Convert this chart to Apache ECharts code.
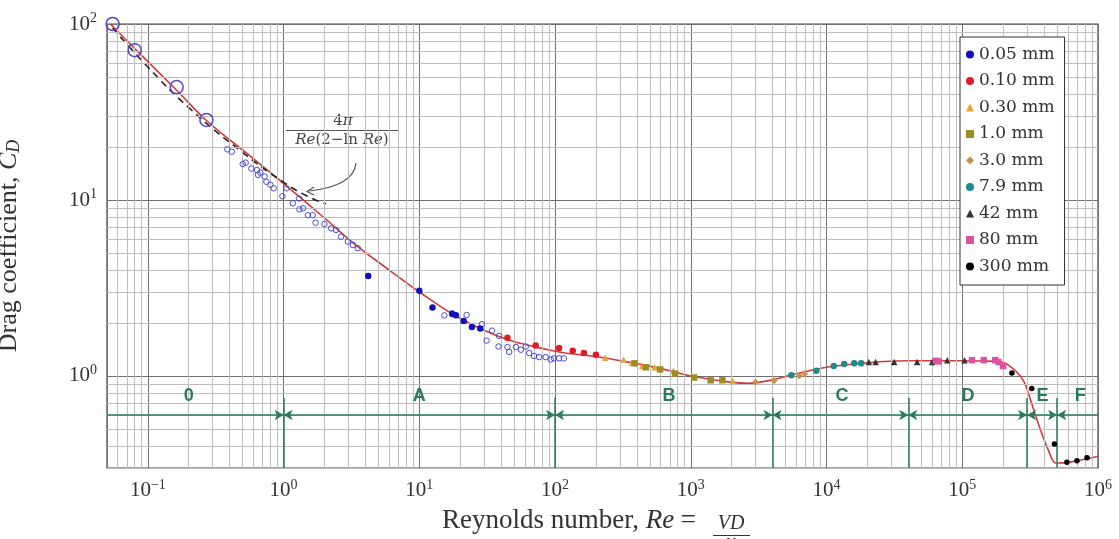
<!DOCTYPE html>
<html><head><meta charset="utf-8">
<script src="https://cdn.jsdelivr.net/npm/echarts@6/dist/echarts.min.js"></script>
<style>html,body{margin:0;padding:0;background:#fff}#c{width:1119px;height:539px}</style>
</head><body><div id="c"></div>
<script>
const SERIF = "'Liberation Serif','DejaVu Serif',serif";
const WSERIF = "'DejaVu Serif','Liberation Serif',serif";
const SANS = "'Liberation Sans','DejaVu Sans',sans-serif";

// ---- tick labels (decade exponents) ----
const xTickExps = [-1, 0, 1, 2, 3, 4, 5, 6];
const yTickExps = [0, 1, 2];

// ---- fitted curve (red) [Re, CD] ----
const fitCurve = [
  [0.053, 100], [0.08, 72.5], [0.163, 42], [0.27, 28.3], [0.56, 17.9], [1, 12.4],
  [2, 7.9], [3.5, 5.45], [6, 4.0], [10, 3.0], [20, 2.12],
  [44.6, 1.61], [107, 1.37], [200, 1.29], [320, 1.21], [440, 1.16],
  [740, 1.06], [1000, 1.0], [2000, 0.92], [2700, 0.91], [4000, 0.95], [5400, 1.01],
  [10000, 1.12], [20000, 1.19], [40000, 1.22], [100000, 1.22], [180000, 1.21],
  [220000, 1.15], [280000, 0.95], [330000, 0.67], [370000, 0.515], [430000, 0.38],
  [490000, 0.32], [630000, 0.325], [1000000, 0.35]
];
// ---- low-Re asymptote (dashed) ----
const lambCurve = [[0.055, 95], [0.1, 57], [0.2, 33.5], [0.5, 18.6], [1, 12.6], [1.5, 10.5], [2.05, 9.5]];

// ---- measured data ----
const bigOpen = [[0.055, 100], [0.08, 71], [0.163, 43.8], [0.27, 28.5]];
const smallOpen = [
  [0.385, 19.4], [0.415, 18.8], [0.5, 16.0], [0.525, 16.3], [0.578, 15.1], [0.636, 14.8],
  [0.647, 13.9], [0.674, 14.3], [0.725, 13.6], [0.746, 12.7], [0.8, 12.2], [0.845, 11.65],
  [0.98, 10.5], [1.05, 11.65], [1.17, 9.58], [1.3, 10.2], [1.31, 8.85], [1.39, 8.97],
  [1.51, 8.2], [1.64, 8.2], [1.72, 7.43], [2.0, 7.3], [2.24, 6.9], [2.43, 6.76],
  [2.65, 6.19], [2.97, 5.8], [3.24, 5.55], [3.52, 5.32],
  [15.3, 2.21], [17.4, 2.27], [22.3, 2.22], [28.9, 1.97], [31.3, 1.59], [34.3, 1.81],
  [38.3, 1.47], [38.7, 1.69], [44.6, 1.46], [45.9, 1.37], [51.4, 1.46], [56, 1.41],
  [60.9, 1.47], [64.5, 1.35], [70.1, 1.3], [76.3, 1.28], [85.3, 1.28], [92.9, 1.24],
  [98.3, 1.26], [107, 1.26], [116, 1.26]
];
const d005 = [[4.2, 3.7], [10, 3.05], [12.5, 2.45], [17.5, 2.25], [18.6, 2.21], [21.2, 2.05], [24.4, 1.9], [28.1, 1.86]];
const d010 = [[44.6, 1.65], [72, 1.49], [107, 1.44], [135, 1.39], [163, 1.35], [200, 1.32]];
const d030 = [[234, 1.27], [320, 1.24], [370, 1.19], [437, 1.14], [541, 1.12], [746, 1.07], [2030, 0.94]];
const d10 = [[385, 1.18], [467, 1.12], [594, 1.09], [767, 1.03], [1057, 0.98], [1400, 0.945], [1710, 0.945]];
const d30 = [[3000, 0.92], [4100, 0.94], [6300, 1.0], [6900, 1.03]];
const d79 = [[5500, 1.01], [8400, 1.07], [11300, 1.14], [13500, 1.17], [16000, 1.18], [18000, 1.18]];
const d42 = [[20500, 1.2], [23000, 1.2], [31500, 1.2], [46500, 1.2], [60000, 1.2], [77500, 1.23], [104000, 1.23]];
const d80 = [[64000, 1.22], [67000, 1.21], [118000, 1.23], [144000, 1.23], [175000, 1.23], [185000, 1.2], [200000, 1.14]];
const d300 = [[232000, 1.04], [325000, 0.85], [477000, 0.41], [590000, 0.323], [700000, 0.33], [830000, 0.343]];

// ---- flow regimes ----
const regionBounds = [1, 100, 4000, 40000, 300000, 500000];
const regionNames = ['0', 'A', 'B', 'C', 'D', 'E', 'F'];
const regionLabelRe = [0.2, 10, 690, 13000, 110000, 390000, 740000];
const regionLabelCd = 0.77;
const regionLineCd = 0.6;
const regionTickTop = 0.75;

const X_MIN = 0.05, X_MAX = 1e6, Y_MIN = 0.3, Y_MAX = 100;

// minor grid lines
const minorX = [], minorY = [];
for (let e = -2; e <= 5; e++) for (let k = 2; k <= 9; k++) {
  const v = k * Math.pow(10, e);
  if (v > X_MIN && v < X_MAX) minorX.push({ xAxis: v });
}
for (let e = -1; e <= 1; e++) for (let k = 2; k <= 9; k++) {
  const v = k * Math.pow(10, e);
  if (v > Y_MIN && v < Y_MAX) minorY.push({ yAxis: v });
}

const GREEN = '#2b7a5c';
const regionSegments = [];
const edges = [X_MIN].concat(regionBounds, [X_MAX]);
for (let i = 0; i < edges.length - 1; i++) {
  regionSegments.push([
    { coord: [edges[i], regionLineCd], symbol: i === 0 ? 'none' : 'arrow' },
    { coord: [edges[i + 1], regionLineCd], symbol: i === edges.length - 2 ? 'none' : 'arrow' }
  ]);
}
const regionTicks = regionBounds.map(b => [
  { coord: [b, Y_MIN], symbol: 'none' }, { coord: [b, regionTickTop], symbol: 'none' }
]);

function expLabel(v, list) {
  const l = Math.log10(v), e = Math.round(l);
  if (Math.abs(l - e) > 1e-6 || list.indexOf(e) < 0) return '';
  return '{b|10}{sup|' + (e < 0 ? '\u2212' + (-e) : e) + '}';
}
const tickRich = {
  b: { fontFamily: SERIF, fontSize: 21, color: '#333' },
  sup: { fontFamily: SERIF, fontSize: 14, color: '#333', padding: [0, 0, 11, 0] }
};

const sc = (name, data, symbol, color, size) => ({
  name, type: 'scatter', data, symbol, symbolSize: size || 6.5, z: 5,
  itemStyle: { color, opacity: 1 }
});

const chart = echarts.init(document.getElementById('c'), null, { renderer: 'canvas' });
chart.setOption({
  animation: false,
  backgroundColor: '#fff',
  grid: { left: 107, right: 21, top: 24, bottom: 71, show: true, borderColor: '#444', borderWidth: 1.2, containLabel: false, outerBoundsMode: 'none' },
  xAxis: {
    type: 'log', logBase: 10, min: X_MIN, max: X_MAX,
    axisLine: { show: false }, axisTick: { show: false },
    splitLine: { show: true, lineStyle: { color: '#707070', width: 1 } },
    axisLabel: { margin: 10, formatter: v => expLabel(v, xTickExps), rich: tickRich, showMinLabel: true, showMaxLabel: true }
  },
  yAxis: {
    type: 'log', logBase: 10, min: Y_MIN, max: Y_MAX,
    axisLine: { show: false }, axisTick: { show: false },
    splitLine: { show: true, lineStyle: { color: '#707070', width: 1 } },
    axisLabel: { margin: 10, formatter: v => expLabel(v, yTickExps), rich: tickRich },
    name: '{t|Drag coefficient, }{i|C}{s|D}', nameLocation: 'middle', nameRotate: 90, nameGap: 84,
    nameTextStyle: {
      rich: {
        t: { fontFamily: SERIF, fontSize: 26, color: '#333' },
        i: { fontFamily: SERIF, fontStyle: 'italic', fontSize: 26, color: '#333' },
        s: { fontFamily: SERIF, fontStyle: 'italic', fontSize: 18, color: '#333', padding: [10, 0, 0, 0] }
      }
    }
  },
  legend: {
    data: ['0.05 mm', '0.10 mm', '0.30 mm', '1.0 mm', '3.0 mm', '7.9 mm', '42 mm', '80 mm', '300 mm'],
    orient: 'vertical', left: 960, top: 37, z: 50, selectedMode: false,
    backgroundColor: '#fff', borderColor: '#333', borderWidth: 1,
    padding: [9, 10, 10, 6], itemGap: 9.5, itemWidth: 8, itemHeight: 8,
    textStyle: { fontFamily: WSERIF, fontSize: 17, color: '#333' }
  },
  series: [
    {
      type: 'line', data: [], silent: true, z: 1,
      markLine: {
        silent: true, symbol: 'none', animation: false, label: { show: false },
        lineStyle: { color: '#bdbdbd', width: 1, type: 'solid' },
        data: minorX.concat(minorY)
      }
    },
    {
      type: 'line', data: [], silent: true, z: 3,
      markLine: {
        silent: true, animation: false, label: { show: false }, symbolSize: [8, 9],
        lineStyle: { color: GREEN, width: 1.5, type: 'solid' },
        data: regionSegments.concat(regionTicks)
      },
      markPoint: {
        silent: true, animation: false, symbol: 'circle', symbolSize: 0,
        itemStyle: { color: GREEN, opacity: 1 },
        label: { show: true, position: 'inside', formatter: p => p.name, fontFamily: SANS, fontWeight: 'bold', fontSize: 18, color: GREEN, opacity: 1, textBorderWidth: 0 },
        data: regionNames.map((n, i) => ({ name: n, coord: [regionLabelRe[i], regionLabelCd] }))
      }
    },
    {
      name: 'fit', type: 'line', data: fitCurve, symbol: 'none', smooth: 0.35, z: 4,
      lineStyle: { color: '#d23a3a', width: 1.6 }
    },
    {
      name: 'lamb', type: 'line', data: lambCurve, symbol: 'none', smooth: true, z: 4,
      lineStyle: { color: '#222', width: 1.6, type: [7, 5] }
    },
    {
      name: 'openBig', type: 'scatter', data: bigOpen, symbol: 'circle', symbolSize: 13, z: 5,
      itemStyle: { color: 'rgba(0,0,0,0)', borderColor: '#5b45c8', borderWidth: 1.5, opacity: 1 }
    },
    {
      name: 'openSmall', type: 'scatter', data: smallOpen, symbol: 'circle', symbolSize: 5.5, z: 5,
      itemStyle: { color: 'rgba(0,0,0,0)', borderColor: '#4a4ad6', borderWidth: 1, opacity: 1 }
    },
    sc('0.05 mm', d005, 'circle', '#1212b8'),
    sc('0.10 mm', d010, 'circle', '#e01b24'),
    sc('0.30 mm', d030, 'triangle', '#e8a23a'),
    sc('1.0 mm', d10, 'rect', '#a08c22'),
    sc('3.0 mm', d30, 'diamond', '#cc8e50', 7),
    sc('7.9 mm', d79, 'circle', '#1e8a8a'),
    sc('42 mm', d42, 'triangle', '#333333'),
    sc('80 mm', d80, 'rect', '#e04fa6'),
    sc('300 mm', d300, 'circle', '#000000', 5.5)
  ],
  graphic: [
    { type: 'text', x: 343, y: 121, style: { text: '4{i|\u03c0}', rich: { i: { fontStyle: 'italic', fontFamily: WSERIF, fontSize: 15, fill: '#444' } }, fontFamily: WSERIF, fontSize: 15, fill: '#444', align: 'center', verticalAlign: 'middle' } },
    { type: 'line', shape: { x1: 286, y1: 130.5, x2: 398, y2: 130.5 }, style: { stroke: '#555', lineWidth: 1 } },
    { type: 'text', x: 342, y: 140, style: { text: '{i|Re}(2\u2212ln {i|Re})', rich: { i: { fontStyle: 'italic', fontFamily: WSERIF, fontSize: 15, fill: '#444' } }, fontFamily: WSERIF, fontSize: 15, fill: '#444', align: 'center', verticalAlign: 'middle' } },
    { type: 'bezierCurve', shape: { x1: 356, y1: 163, cpx1: 354, cpy1: 186, x2: 309, y2: 191 }, style: { stroke: '#555', lineWidth: 1.2, fill: null } },
    { type: 'polyline', shape: { points: [[314, 187], [307, 191.5], [314, 195]] }, style: { stroke: '#555', lineWidth: 1.2, fill: null } },
    { type: 'text', x: 442, y: 521, style: { text: 'Reynolds number, {i|Re} = ', rich: { i: { fontStyle: 'italic', fontFamily: SERIF, fontSize: 27, fill: '#333' } }, fontFamily: SERIF, fontSize: 27, fill: '#333', verticalAlign: 'middle' } },
    { type: 'text', x: 731, y: 524, style: { text: 'VD', fontFamily: SERIF, fontStyle: 'italic', fontSize: 20, fill: '#333', align: 'center', verticalAlign: 'middle' } },
    { type: 'line', shape: { x1: 713, y1: 535.5, x2: 750, y2: 535.5 }, style: { stroke: '#333', lineWidth: 1 } },
    { type: 'text', x: 731, y: 543, style: { text: '\u03bd', fontFamily: SERIF, fontStyle: 'italic', fontSize: 20, fill: '#333', align: 'center', verticalAlign: 'middle' } }
  ]
});
</script></body></html>
